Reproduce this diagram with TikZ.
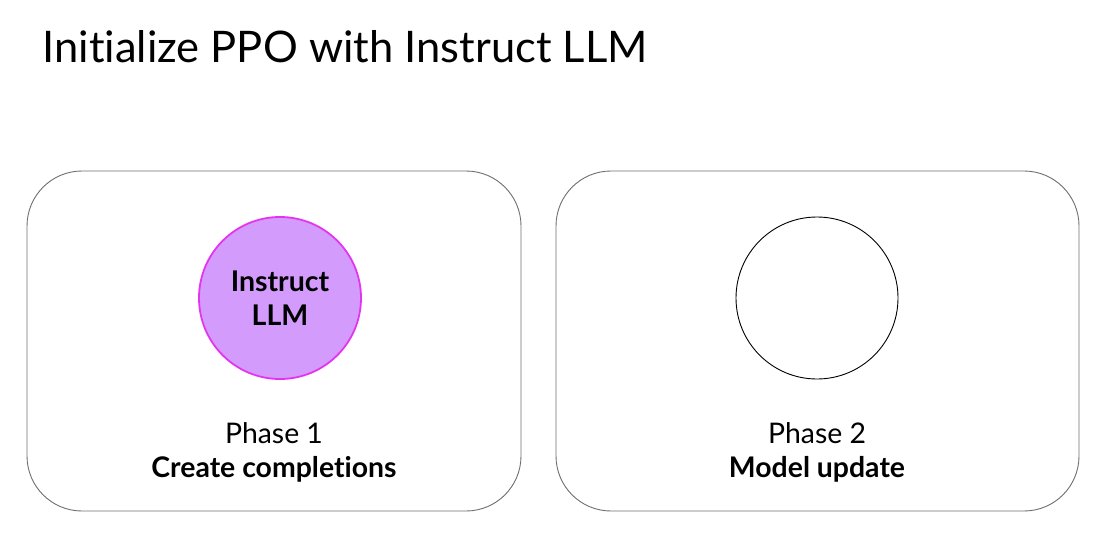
\documentclass[tikz,border=0pt]{standalone}
\usepackage{fontspec}
\setmainfont{Lato}[Ligatures=NoCommon]
\usepackage{tikz}

\definecolor{llmfill}{RGB}{210,155,252}
\definecolor{llmdraw}{RGB}{228,52,240}
\definecolor{boxdraw}{RGB}{110,110,110}

\begin{document}
\begin{tikzpicture}[
	x=1pt,y=-1pt,
	phasebox/.style={draw=boxdraw,line width=0.9pt,rounded corners=55pt,
		minimum width=494pt,minimum height=340pt,inner sep=0pt},
	model/.style={circle,draw,line width=0.9pt,minimum size=162pt,
		inner sep=0pt,align=center,font=\fontsize{28.5}{34}\selectfont\bfseries},
	caption/.style={align=center,font=\fontsize{28.4}{34}\selectfont}
]
	\useasboundingbox (0,0) rectangle (1097,548);

	\node[anchor=base west,font=\fontsize{43.5}{50}\selectfont] at (39,63) (title) {Initialize PPO with Instruct LLM};

	\node[phasebox] at (274,341) (box1) {};
	\node[phasebox,minimum width=523pt] at (817.5,341) (box2) {};

	\node[model,draw=llmdraw,fill=llmfill,line width=1.8pt] at (280,298) (llm) {Instruct\\LLM};
	\node[model,draw=black] at (817,298) (upd) {};

	\node[caption] at (274,452) (cap1) {Phase 1\\\textbf{Create completions}};
	\node[caption] at (817,452) (cap2) {Phase 2\\\textbf{Model update}};
\end{tikzpicture}
\end{document}
